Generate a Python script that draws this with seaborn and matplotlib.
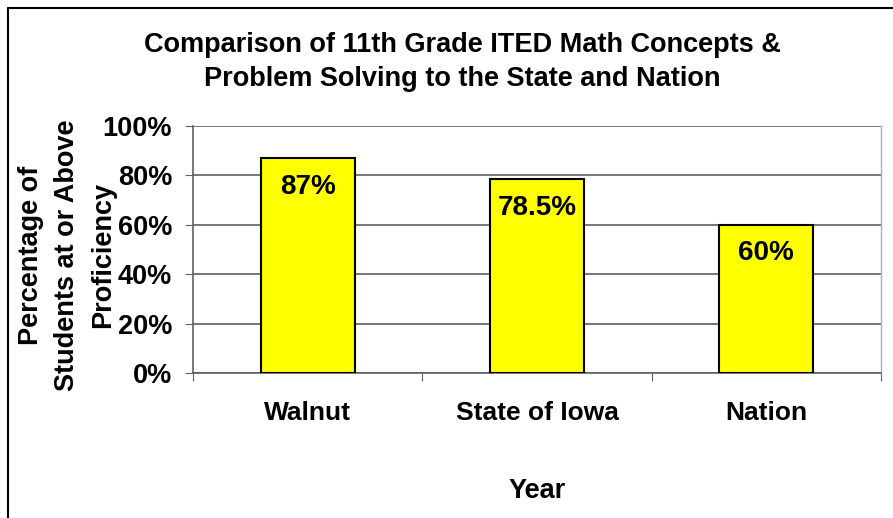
import matplotlib.pyplot as plt
import matplotlib.lines as mlines
import seaborn as sns
import pandas as pd

sns.set_style('white')
plt.rcParams['font.family'] = ['Liberation Sans', 'DejaVu Sans']
plt.rcParams['font.weight'] = 'bold'
plt.rcParams['text.color'] = 'black'
plt.rcParams['axes.labelcolor'] = 'black'
plt.rcParams['xtick.color'] = 'black'
plt.rcParams['ytick.color'] = 'black'

# data
categories = ['Walnut', 'State of Iowa', 'Nation']
percent = [87, 78.5, 60]
bar_labels = ['87%', '78.5%', '60%']
yticks = [0, 20, 40, 60, 80, 100]
ylabel_lines = ['Percentage of', 'Students at or Above', 'Proficiency']

df = pd.DataFrame({'place': categories, 'pct': percent})

fig = plt.figure(figsize=(8.93, 5.18), dpi=100)
ax = fig.add_axes([193/893, 1-373/518, 688/893, 247/518])

sns.barplot(data=df, x='place', y='pct', color='#FFFF00', edgecolor='black',
            linewidth=1.5, width=0.41, saturation=1, ax=ax, zorder=3)

ax.set_ylim(0, 100)
ax.set_xlim(-0.5, 2.5)
ax.set_yticks(yticks)
ax.set_yticklabels([f'{t}%' for t in yticks], fontsize=19.5, fontweight='bold')
ax.grid(axis='y', color='#606060', linewidth=1.2, zorder=0)
ax.set_axisbelow(True)

# x ticks between categories, labels centered on bars
ax.set_xticks([-0.5, 0.5, 1.5, 2.5])
ax.set_xticklabels([])
ax.set_xticks([0, 1, 2], minor=True)
ax.set_xticklabels(categories, minor=True, fontsize=19, fontweight='bold')
ax.tick_params(axis='x', which='major', length=6, direction='out', color='#606060')
ax.tick_params(axis='x', which='minor', length=0, pad=20)
ax.tick_params(axis='y', length=6, direction='out', color='#606060', pad=9)
ax.yaxis.set_ticks_position('left')
ax.xaxis.set_ticks_position('bottom')

ax.spines['top'].set_visible(False)
ax.spines['right'].set_color('#b0b0b0')
ax.spines['right'].set_linewidth(1.0)
for side in ['left', 'bottom']:
    ax.spines[side].set_color('#606060')
    ax.spines[side].set_linewidth(1.2)

for i, (v, lab) in enumerate(zip(percent, bar_labels)):
    ax.text(i, v - 11.5, lab, ha='center', va='center', fontsize=20,
            fontweight='bold', zorder=4)

ax.set_xlabel('Year', fontsize=19.5, fontweight='bold', labelpad=38)
ax.set_ylabel('')
# y label as three stacked rotated lines
for k, line in enumerate(ylabel_lines):
    fig.text((31 + 36*k)/893, 1-255/518, line, rotation=90, ha='center',
             va='center', fontsize=19.5, fontweight='bold')

fig.text(462/893, 1-62/518, 'Comparison of 11th Grade ITED Math Concepts &\nProblem Solving to the State and Nation',
         ha='center', va='center', fontsize=19.5, fontweight='bold', linespacing=1.4)

# chart area border (left and top edges visible)
fig.add_artist(mlines.Line2D([8/893, 8/893], [0, 1-8/518], color='black', linewidth=1.5))
fig.add_artist(mlines.Line2D([8/893, 1], [1-8/518, 1-8/518], color='black', linewidth=1.5))

fig.savefig('out.png', dpi=100)
